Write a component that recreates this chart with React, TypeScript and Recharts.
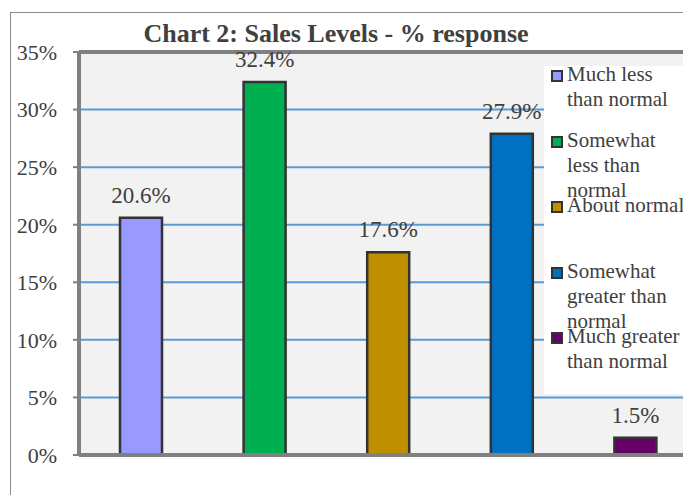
import { Bar, BarChart, CartesianGrid, Cell, LabelList, ReferenceLine, XAxis, YAxis } from "recharts";

const categories = [
  "Much less than normal",
  "Somewhat less than normal",
  "About normal",
  "Somewhat greater than normal",
  "Much greater than normal",
];
const responses = [20.6, 32.4, 17.6, 27.9, 1.5];
const barColors = ["#9999ff", "#00b050", "#bf8f00", "#0070c0", "#660066"];
const yTicks = [0, 5, 10, 15, 20, 25, 30, 35];
const chartTitle = "Chart 2: Sales Levels - % response";

const data = categories.map((name, i) => ({ name, value: responses[i] }));

const FONT = "'Liberation Serif', 'Times New Roman', serif";
const TEXT = "#404040";

// legend sits over the right of the plot, like the Excel original
const Legend = () => (
  <div
    style={{
      position: "absolute",
      left: 544,
      top: 66,
      width: 160,
      height: 328,
      background: "#fff",
      fontFamily: FONT,
      fontSize: 21,
      lineHeight: "25px",
      color: TEXT,
    }}
  >
    {categories.map((name, i) => (
      <div
        key={name}
        style={{ position: "absolute", left: 0, top: -3.6 + i * 65.5, width: 160 }}
      >
        <div
          style={{
            position: "absolute",
            left: 7,
            top: 8,
            width: 8,
            height: 8,
            border: "2px solid #333",
            background: barColors[i],
          }}
        />
        <div style={{ position: "absolute", left: 23, top: 0, width: 120 }}>{name}</div>
      </div>
    ))}
  </div>
);

export default function App() {
  return (
    <div
      style={{
        position: "absolute",
        left: 0,
        top: 0,
        width: 683,
        height: 495,
        overflow: "hidden",
        background: "#fff",
      }}
    >
      <div
        style={{
          position: "absolute",
          left: 10,
          top: 12,
          width: 720,
          height: 520,
          borderTop: "1.5px solid #8a8a8a",
          borderLeft: "1.5px solid #8a8a8a",
        }}
      />
      <div style={{ position: "absolute", left: 0, top: 0 }}>
        <BarChart
          width={720}
          height={495}
          data={data}
          margin={{ top: 52, right: 23, left: 0, bottom: 40 }}
          barSize={42}
        >
          <CartesianGrid
            vertical={false}
            stroke="#5b9bd5"
            strokeWidth={2}
            fill="#f2f2f2"
            fillOpacity={1}
          />
          <XAxis dataKey="name" hide />
          <YAxis
            width={79}
            domain={[0, 35]}
            ticks={yTicks}
            interval={0}
            tickFormatter={(v: number) => `${v}%`}
            axisLine={{ stroke: "#808080", strokeWidth: 4 }}
            tickLine={{ stroke: "#808080", strokeWidth: 2 }}
            tickSize={6}
            tickMargin={16}
            tick={{ fill: TEXT, fontSize: 22, fontFamily: FONT }}
          />
          <ReferenceLine y={35} stroke="#808080" strokeWidth={4} ifOverflow="visible" />
          <ReferenceLine y={0} stroke="#808080" strokeWidth={4} ifOverflow="visible" />
          <Bar dataKey="value" stroke="#333333" strokeWidth={2.5} isAnimationActive={false}>
            {data.map((entry, i) => (
              <Cell key={entry.name} fill={barColors[i]} />
            ))}
            <LabelList
              dataKey="value"
              position="top"
              offset={15}
              formatter={(v: number) => `${v.toFixed(1)}%`}
              style={{ fill: TEXT, fontSize: 23, fontFamily: FONT }}
            />
          </Bar>
          <text
            x={336}
            y={42}
            textAnchor="middle"
            fill={TEXT}
            fontSize={26}
            fontWeight="bold"
            fontFamily={FONT}
          >
            {chartTitle}
          </text>
        </BarChart>
      </div>
      <Legend />
    </div>
  );
}
